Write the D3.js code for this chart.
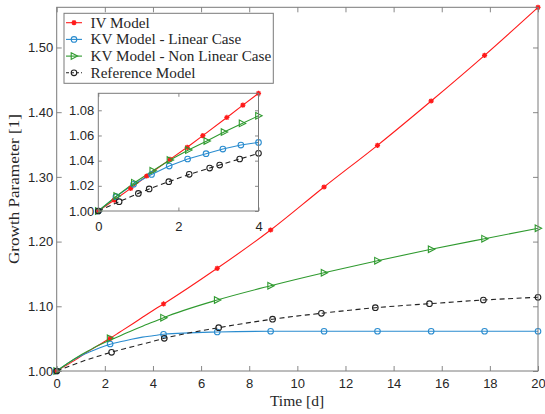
<!DOCTYPE html>
<html>
<head>
<meta charset="utf-8">
<script src="https://cdn.jsdelivr.net/npm/d3@7"></script>
<style>
  body { margin: 0; background: #fff; }
  svg { display: block; }
</style>
</head>
<body>
<svg id="chart" width="545" height="414"></svg>
<script>
// ---------- DATA ----------
const seriesNames = ["IV Model", "KV Model - Linear Case", "KV Model - Non Linear Case", "Reference Model"];

// main-chart marker times
const mainT    = [0, 2.22, 4.44, 6.67, 8.89, 11.11, 13.33, 15.56, 17.78, 20];
const mainTRef = [0, 2.28, 4.47, 6.73, 8.97, 11.0, 13.24, 15.49, 17.73, 20];

const ivMain    = [1.000, 1.0505, 1.1036, 1.1587, 1.2179, 1.2844, 1.3488, 1.4173, 1.4879, 1.5621];
const kvLinMain = [1.000, 1.0417, 1.0567, 1.0603, 1.0614, 1.0614, 1.0614, 1.0614, 1.0614, 1.0614];
const kvNlMain  = [1.000, 1.0505, 1.0824, 1.1097, 1.1318, 1.1519, 1.1705, 1.1881, 1.2045, 1.2206];
const refMain   = [1.000, 1.0289, 1.0505, 1.0669, 1.0801, 1.0892, 1.0978, 1.1040, 1.1097, 1.1139];

// inset (zoom 0-4 d)
const ivInsetT    = [0, 0.40, 0.81, 1.21, 1.79, 2.22, 2.61, 3.21, 3.61, 4.00];
const ivInset     = [1.000, 1.0087, 1.0180, 1.0278, 1.0410, 1.0506, 1.0599, 1.0743, 1.0841, 1.0935];
const kvLinInsetT = [0, 0.44, 0.88, 1.33, 1.77, 2.23, 2.69, 3.11, 3.56, 4.00];
const kvLinInset  = [1.000, 1.0114, 1.0212, 1.0290, 1.0357, 1.0413, 1.0455, 1.0492, 1.0524, 1.0545];
const kvNlInsetT  = [0, 0.46, 0.90, 1.36, 1.79, 2.25, 2.71, 3.14, 3.59, 4.00];
const kvNlInset   = [1.000, 1.0119, 1.0225, 1.0320, 1.0405, 1.0484, 1.0556, 1.0627, 1.0696, 1.0756];
const refInsetT   = [0, 0.52, 1.00, 1.27, 1.76, 2.27, 2.78, 3.03, 3.53, 4.00];
const refInset    = [1.000, 1.0074, 1.0140, 1.0175, 1.0233, 1.0291, 1.0341, 1.0365, 1.0413, 1.0458];

const xTicks = [0, 2, 4, 6, 8, 10, 12, 14, 16, 18, 20];
const yTicks = [1.00, 1.10, 1.20, 1.30, 1.40, 1.50];
const xTicksInset = [0, 2, 4];
const yTicksInset = [1.00, 1.02, 1.04, 1.06, 1.08];

// ---------- STYLE ----------
const colors = ["#ff1a1a", "#2a8ccf", "#2f9a2f", "#222222"];
const markers = ["asterisk", "circle", "triangle", "circle"];
const dashes = [null, null, null, "5,3.5"];
const axisColor = "#7a7a7a";
const tickFont = "'Liberation Sans', Arial, Helvetica, sans-serif";
const serifFont = "'Liberation Serif', 'Times New Roman', serif";

const svg = d3.select("#chart");

function zip(t, v) { return t.map((d, i) => ({t: d, v: v[i]})); }

const mainSeries = [
  zip(mainT, ivMain), zip(mainT, kvLinMain), zip(mainT, kvNlMain), zip(mainTRef, refMain)
];
const insetSeries = [
  zip(ivInsetT, ivInset), zip(kvLinInsetT, kvLinInset), zip(kvNlInsetT, kvNlInset), zip(refInsetT, refInset)
];
// main line: inset detail for early times + main markers afterwards
const mainLineSeries = mainSeries.map((s, i) =>
  insetSeries[i].filter(d => d.t < 4.01).concat(s.filter(d => d.t > 4.1)));

function drawMarker(g, type, cx, cy, color) {
  if (type === "circle") {
    g.append("circle").attr("cx", cx).attr("cy", cy).attr("r", 2.8)
      .attr("fill", "none").attr("stroke", color).attr("stroke-width", 1.1);
  } else if (type === "triangle") {
    g.append("path")
      .attr("d", `M${cx-2.8},${cy-3.3}L${cx+3.6},${cy}L${cx-2.8},${cy+3.3}Z`)
      .attr("fill", "none").attr("stroke", color).attr("stroke-width", 1.1);
  } else {
    const r = 2.6, q = r * 0.72;
    g.append("path")
      .attr("d", `M${cx-r},${cy}L${cx+r},${cy}M${cx},${cy-r}L${cx},${cy+r}` +
                 `M${cx-q},${cy-q}L${cx+q},${cy+q}M${cx-q},${cy+q}L${cx+q},${cy-q}`)
      .attr("stroke", color).attr("stroke-width", 1.3).attr("fill", "none");
    g.append("circle").attr("cx", cx).attr("cy", cy).attr("r", 1.3).attr("fill", color);
  }
}

function drawAxesBox(g, x, y, xt, yt, xfmt, yfmt, tickLen, xPad, yPad) {
  const [x0, x1] = x.range(), [y0, y1] = y.range();
  const bx = g.append("g").attr("transform", `translate(0,${y0})`)
    .call(d3.axisBottom(x).tickValues(xt).tickFormat(xfmt).tickSize(-tickLen).tickPadding(xPad));
  const tx = g.append("g").attr("transform", `translate(0,${y1})`)
    .call(d3.axisTop(x).tickValues(xt).tickFormat("").tickSize(-tickLen));
  const ly = g.append("g").attr("transform", `translate(${x0},0)`)
    .call(d3.axisLeft(y).tickValues(yt).tickFormat(yfmt).tickSize(-tickLen).tickPadding(yPad));
  const ry = g.append("g").attr("transform", `translate(${x1},0)`)
    .call(d3.axisRight(y).tickValues(yt).tickFormat("").tickSize(-tickLen));
  [bx, tx, ly, ry].forEach(a => {
    a.select(".domain").remove();
    a.selectAll("line").attr("stroke", axisColor).attr("stroke-width", 0.9);
    a.selectAll("text").attr("fill", "#262626").style("font-family", tickFont).style("font-size", "13px");
  });
  g.append("rect").attr("x", x0).attr("y", y1).attr("width", x1 - x0).attr("height", y0 - y1)
    .attr("fill", "none").attr("stroke", axisColor).attr("stroke-width", 1);
}

// ---------- MAIN ----------
const x = d3.scaleLinear().domain([0, 20]).range([56.7, 538]);
const y = d3.scaleLinear().domain([1.0, 1.5621]).range([371, 7.3]);

const main = svg.append("g");
main.append("rect").attr("x", 56.7).attr("y", 7.3).attr("width", 538 - 56.7).attr("height", 371 - 7.3).attr("fill", "#fff");

const lineMain = d3.line().x(d => x(d.t)).y(d => y(d.v)).curve(d3.curveMonotoneX);
mainLineSeries.forEach((s, i) => {
  main.append("path").datum(s).attr("d", lineMain)
    .attr("fill", "none").attr("stroke", colors[i]).attr("stroke-width", 1.1)
    .attr("stroke-dasharray", dashes[i]);
});
mainSeries.forEach((s, i) => {
  const g = main.append("g");
  s.forEach(d => drawMarker(g, markers[i], x(d.t), y(d.v), colors[i]));
});
drawAxesBox(main, x, y, xTicks, yTicks, d3.format("d"), d3.format(".2f"), 5, 8, 3.5);

// axis labels
svg.append("text").attr("x", 297).attr("y", 406).attr("text-anchor", "middle")
  .style("font-family", serifFont).style("font-size", "15.5px").attr("fill", "#262626").text("Time [d]");
svg.append("text").attr("transform", "translate(19,189) rotate(-90)").attr("text-anchor", "middle")
  .attr("textLength", 150).attr("lengthAdjust", "spacingAndGlyphs")
  .style("font-family", serifFont).style("font-size", "15.5px").attr("fill", "#262626").text("Growth Parameter [1]");

// ---------- LEGEND ----------
const leg = svg.append("g");
leg.append("rect").attr("x", 64).attr("y", 13.3).attr("width", 209.3).attr("height", 70)
  .attr("fill", "#fff").attr("stroke", axisColor).attr("stroke-width", 1);
seriesNames.forEach((name, i) => {
  const cy = 22.7 + i * 16.7;
  leg.append("line").attr("x1", 66).attr("x2", 82).attr("y1", cy).attr("y2", cy)
    .attr("stroke", colors[i]).attr("stroke-width", 1.1).attr("stroke-dasharray", dashes[i] ? "3,2" : null);
  drawMarker(leg, markers[i], 74, cy, colors[i]);
  leg.append("text").attr("x", 90.5).attr("y", cy + 5)
    .style("font-family", serifFont).style("font-size", "15.2px").attr("fill", "#262626").text(name);
});

// ---------- INSET ----------
const xi = d3.scaleLinear().domain([0, 4]).range([98.3, 258.5]);
const yi = d3.scaleLinear().domain([1.0, 1.0935]).range([211, 93.3]);
const inset = svg.append("g");
inset.append("rect").attr("x", 98.3).attr("y", 93.3).attr("width", 258.5 - 98.3).attr("height", 211 - 93.3).attr("fill", "#fff");
const lineInset = d3.line().x(d => xi(d.t)).y(d => yi(d.v));
insetSeries.forEach((s, i) => {
  inset.append("path").datum(s).attr("d", lineInset)
    .attr("fill", "none").attr("stroke", colors[i]).attr("stroke-width", 1.1)
    .attr("stroke-dasharray", dashes[i]);
});
insetSeries.forEach((s, i) => {
  const g = inset.append("g");
  s.forEach(d => drawMarker(g, markers[i], xi(d.t), yi(d.v), colors[i]));
});
drawAxesBox(inset, xi, yi, xTicksInset, yTicksInset, d3.format("d"), d3.format(".2f"), 3.5, 10.5, 4);
</script>
</body>
</html>
